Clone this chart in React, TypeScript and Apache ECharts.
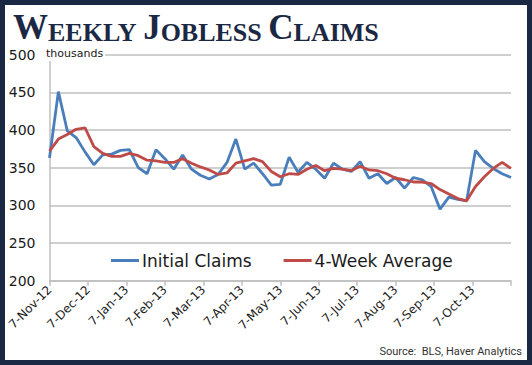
import React, { useEffect, useRef } from "react";
import * as echarts from "echarts";

const monthLabels = [
  "7-Nov-12", "7-Dec-12", "7-Jan-13", "7-Feb-13", "7-Mar-13", "7-Apr-13",
  "7-May-13", "7-Jun-13", "7-Jul-13", "7-Aug-13", "7-Sep-13", "7-Oct-13", "",
];

const initialClaims = [
  363, 451, 399, 390, 371, 354, 367, 368, 373, 374, 350, 342, 374, 362,
  348, 367, 348, 340, 335, 341, 357, 388, 348, 356, 342, 327, 328,
  364, 344, 357, 348, 336, 356, 348, 345, 358, 336, 342, 329, 337,
  323, 337, 334, 325, 295, 311, 308, 306, 373, 358, 349, 342, 337,
];

const fourWeekAverage = [
  372, 388, 394, 401, 403, 378, 369, 365, 365, 369, 366, 360, 359, 357,
  357, 362, 356, 351, 347, 341, 343, 356, 359, 362, 358, 345, 338,
  342, 341, 348, 353, 346, 349, 348, 346, 352, 347, 346, 342, 336,
  334, 331, 331, 329, 321, 315, 309, 306, 325, 338, 349, 357, 349,
];

const yTicks = { min: 200, max: 500, interval: 50 };

// weekly category labels (hidden axis)
const weekDates: string[] = (() => {
  const out: string[] = [];
  const start = new Date(2012, 10, 7);
  for (let i = 0; i < initialClaims.length; i++) {
    const d = new Date(start.getTime() + i * 7 * 86400000);
    out.push(`${d.getFullYear()}-${d.getMonth() + 1}-${d.getDate()}`);
  }
  return out;
})();

const SANS = "DejaVu Sans";
const NAVY = "#1b2844";
const GRID = "#bfbfbf";

export default function App() {
  const ref = useRef<HTMLDivElement>(null);
  useEffect(() => {
    if (!ref.current) return;
    const chart = echarts.init(ref.current, undefined, { renderer: "svg" });
    chart.setOption({
      animation: false,
      backgroundColor: "#ffffff",
      grid: { left: 49.5, right: 21, top: 54.7, bottom: 84.3, containLabel: false },
      xAxis: [
        {
          type: "category",
          data: weekDates,
          boundaryGap: false,
          show: false,
        },
        {
          type: "category",
          data: monthLabels,
          boundaryGap: false,
          position: "bottom",
          axisLine: { show: true, lineStyle: { color: GRID, width: 1.5 } },
          axisTick: { show: true, length: 5, lineStyle: { color: GRID, width: 1.5 } },
          axisLabel: {
            interval: 0,
            rotate: 45,
            fontSize: 12,
            fontFamily: SANS,
            color: "#1a1a1a",
            margin: 7,
          },
          splitLine: { show: false },
        },
      ],
      yAxis: {
        type: "value",
        min: yTicks.min,
        max: yTicks.max,
        interval: yTicks.interval,
        axisLine: { show: true, lineStyle: { color: GRID, width: 1.5 } },
        axisTick: { show: false },
        axisLabel: { fontSize: 14, fontFamily: SANS, color: "#1a1a1a", margin: 14 },
        splitLine: { show: true, lineStyle: { color: GRID, width: 1.5 } },
      },
      legend: {
        data: ["Initial Claims", "4-Week Average"],
        left: 106,
        top: 247,
        icon: "rect",
        itemWidth: 28,
        itemHeight: 3,
        itemGap: 32,
        textStyle: { fontSize: 17, fontFamily: SANS, color: "#1a1a1a", padding: [0, 0, 0, -2] },
      },
      series: [
        {
          name: "Initial Claims",
          type: "line",
          xAxisIndex: 0,
          data: initialClaims,
          showSymbol: false,
          symbol: "none",
          lineStyle: { color: "#4a7ebb", width: 2.8 },
          itemStyle: { color: "#4a7ebb" },
          z: 3,
        },
        {
          name: "4-Week Average",
          type: "line",
          xAxisIndex: 0,
          data: fourWeekAverage,
          showSymbol: false,
          symbol: "none",
          lineStyle: { color: "#be4b48", width: 2.8 },
          itemStyle: { color: "#be4b48" },
          z: 4,
        },
      ],
      graphic: [
        {
          type: "rect",
          shape: { x: 2.5, y: 2.5, width: 527, height: 360 },
          style: { fill: "none", stroke: NAVY, lineWidth: 5 },
          z: 100,
        },
        {
          type: "text",
          left: 13,
          top: 10,
          style: {
            text: "{b|W}{s|EEKLY }{b|J}{s|OBLESS }{b|C}{s|LAIMS}",
            rich: {
              b: { fontSize: 35, fontFamily: "Liberation Serif", fontWeight: "bold", fill: NAVY, verticalAlign: "bottom", lineHeight: 35 },
              s: { fontSize: 26, fontFamily: "Liberation Serif", fontWeight: "bold", fill: NAVY, verticalAlign: "bottom", lineHeight: 29 },
            },
          },
          z: 50,
        },
        {
          type: "text",
          left: 44,
          top: 48,
          style: {
            text: "thousands",
            fontSize: 11,
            fontFamily: SANS,
            fill: "#1a1a1a",
            backgroundColor: "#ffffff",
            padding: [0, 2, 2, 2],
          },
          z: 50,
        },
        {
          type: "text",
          right: 10,
          top: 346,
          style: {
            text: "Source:  BLS, Haver Analytics",
            fontSize: 11,
            fontFamily: "Liberation Sans Narrow, Roboto",
            fill: "#333333",
          },
          z: 50,
        },
      ],
    });
    return () => chart.dispose();
  }, []);
  return (
    <div
      ref={ref}
      style={{ position: "absolute", left: 0, top: 0, width: 532, height: 365 }}
    />
  );
}
